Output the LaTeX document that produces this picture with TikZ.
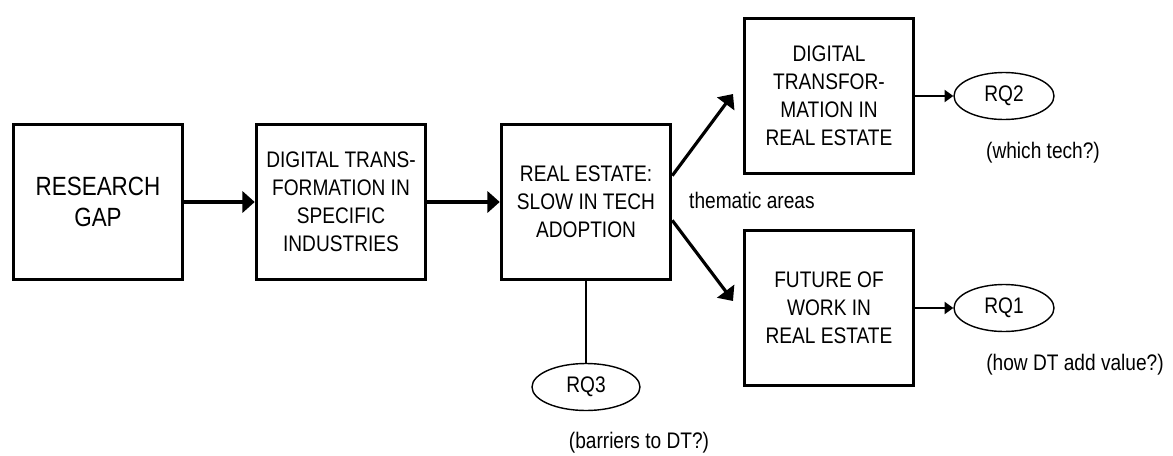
\documentclass[tikz,border=0pt]{standalone}
\usepackage{fontspec}
\setmainfont{Liberation Sans}[FakeStretch=0.85]
\usetikzlibrary{arrows.meta,shapes.geometric}

\tikzset{
  block/.style={draw, line width=2pt, minimum width=33.8mm, minimum height=31mm,
    align=center, inner sep=0pt, font=\fontsize{12.8}{16}\selectfont},
  rq/.style={draw, ellipse, line width=0.8pt, minimum width=20mm, minimum height=9.4mm,
    inner sep=0pt, font=\fontsize{12.8}{16}\selectfont},
  note/.style={font=\fontsize{12.8}{16}\selectfont},
  bigarrow/.style={line width=1.8pt, -{Triangle[length=7pt,width=12pt]}},
  smallarrow/.style={line width=0.8pt, -{Triangle[length=5pt,width=7pt]}},
}

\begin{document}
\begin{tikzpicture}[x=0.2mm, y=-0.2mm]
  \useasboundingbox (0,0) rectangle (1173,455);
  % main chain
  \node[block, font=\fontsize{15}{18}\selectfont] (gap) at (98,202) {RESEARCH\\GAP};
  \node[block] (ind) at (341,202) {DIGITAL TRANS-\\FORMATION IN\\SPECIFIC\\INDUSTRIES};
  \node[block] (re) at (586,202) {REAL ESTATE:\\SLOW IN TECH\\ADOPTION};
  \draw[bigarrow] (gap) -- (ind);
  \draw[bigarrow] (ind) -- (re);
  % thematic areas
  \node[block] (dtre) at (829,96) {DIGITAL\\TRANSFOR-\\MATION IN\\REAL ESTATE};
  \node[block] (fow) at (829,308) {FUTURE OF\\WORK IN\\REAL ESTATE};
  \coordinate (up) at (733,94);
  \coordinate (dn) at (733,301);
  \draw[bigarrow] (re.17) -- (up);
  \draw[bigarrow] (re.-12) -- (dn);
  \node[note, anchor=west] (them) at (683,200) {thematic areas};
  % research questions
  \node[rq] (rq2) at (1004,96) {RQ2};
  \node[rq] (rq1) at (1004,308) {RQ1};
  \node[rq, minimum width=21.6mm] (rq3) at (586,387) {RQ3};
  \draw[smallarrow] (dtre) -- (rq2);
  \draw[smallarrow] (fow) -- (rq1);
  \draw[line width=0.7pt] (re) -- (rq3);
  \node[note] (q2) at (1043,153) {(which tech?)};
  \node[note] (q1) at (1075,365) {(how DT add value?)};
  \node[note] (q3) at (639,443) {(barriers to DT?)};
\end{tikzpicture}
\end{document}
